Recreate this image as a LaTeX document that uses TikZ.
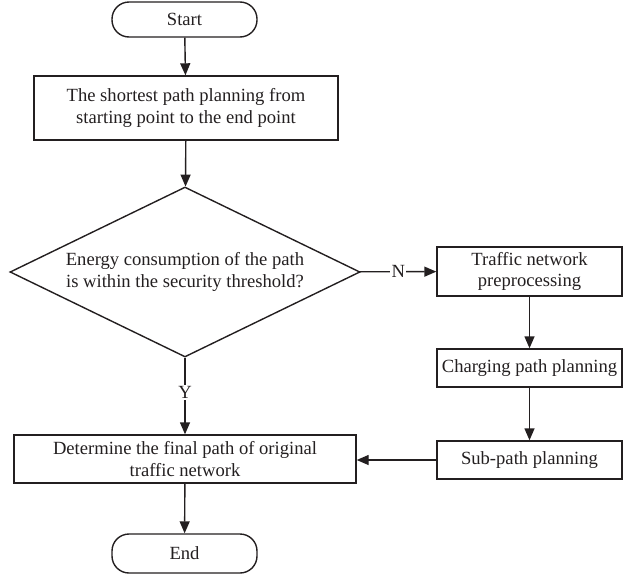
\documentclass[tikz,border=0pt]{standalone}
\usepackage{fontspec}
\setmainfont{Liberation Serif}
\usetikzlibrary{shapes.geometric,arrows.meta}
\definecolor{ink}{HTML}{231F20}
\begin{document}
\begin{tikzpicture}[x=1pt,y=-1pt,
  every node/.style={font=\fontsize{18.6pt}{21.5pt}\selectfont, text=ink},
  proc/.style={draw=ink, line width=1.4pt, rectangle, inner sep=0pt, align=center},
  term/.style={draw=ink, line width=1.4pt, rectangle, rounded corners=17pt, inner sep=0pt, minimum width=145pt},
  dec/.style={draw=ink, line width=1.4pt, diamond, aspect=2.06, inner sep=0pt, align=center, minimum width=350pt, minimum height=170pt},
  conn/.style={draw=ink, line width=1.4pt, -{Triangle[length=12pt,width=10pt]}},
  lab/.style={fill=white, inner sep=1.5pt}]
\useasboundingbox (0,0) rectangle (623,576);
\node[term, minimum height=35pt] (start) at (184.5,19.5) {Start};
\node[proc, minimum width=304pt, minimum height=64pt] (b1) at (186,108) {The shortest path planning from\\starting point to the end point};
\node[dec] (d) at (185,272) {Energy consumption of the path\\is within the security threshold?};
\node[proc, minimum width=185pt, minimum height=49pt] (tr) at (529.5,271.5) {Traffic network\\preprocessing};
\node[proc, minimum width=185pt, minimum height=38pt] (ch) at (529.5,368) {Charging path planning};
\node[proc, minimum width=185pt, minimum height=38pt] (sp) at (529.5,460) {Sub-path planning};
\node[proc, minimum width=342pt, minimum height=48pt] (det) at (185,459) {Determine the final path of original\\traffic network};
\node[term, minimum height=39pt] (end) at (184.5,553.5) {End};
\draw[conn] (start) -- (b1);
\draw[conn] (b1) -- (d);
\draw[conn] (d) -- node[lab] (n) {N} (tr);
\draw[conn] (d.south) -- node[lab, pos=0.45] (y) {Y} (d.south |- det.north);
\draw[conn] (tr) -- (ch);
\draw[conn] (ch) -- (sp);
\draw[conn] (sp) -- (det.east |- sp.west);
\draw[conn] (det) -- (end);
\end{tikzpicture}
\end{document}
